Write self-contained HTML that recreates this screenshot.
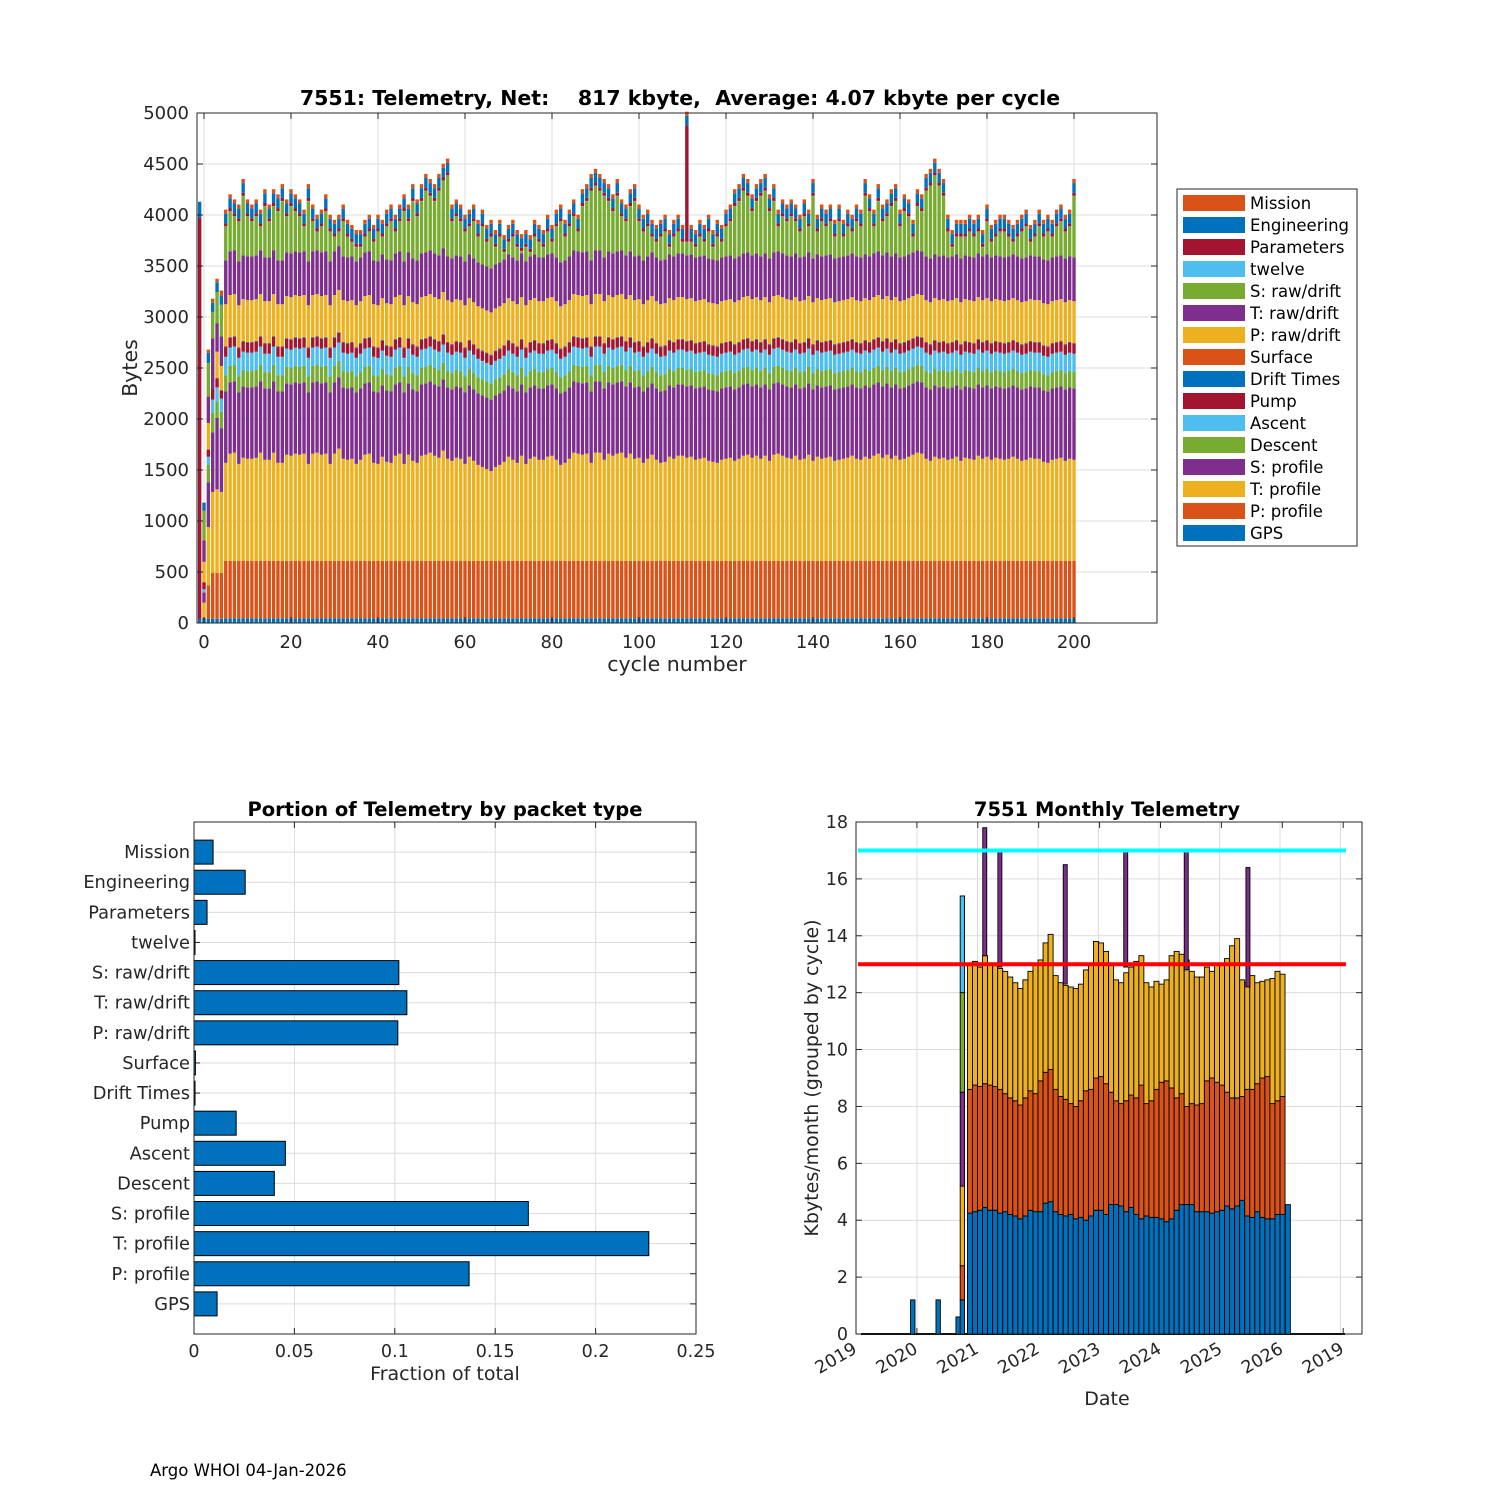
<!DOCTYPE html>
<html><head><meta charset="utf-8"><style>
html,body{margin:0;padding:0;background:#fff;}
svg{display:block;font-family:"DejaVu Sans","Liberation Sans",sans-serif;}
</style></head><body>
<svg id="root" xmlns="http://www.w3.org/2000/svg" width="1500" height="1500" viewBox="0 0 1500 1500">
<rect width="1500" height="1500" fill="#fff"/>
<text x="680" y="105" text-anchor="middle" font-size="20.5" font-weight="bold" fill="#000" style="white-space:pre">7551: Telemetry, Net:    817 kbyte,  Average: 4.07 kbyte per cycle</text>
<text x="677" y="671" text-anchor="middle" font-size="20.5" fill="#262626">cycle number</text>
<text transform="translate(137,368) rotate(-90)" text-anchor="middle" font-size="20.5" fill="#262626">Bytes</text>
<text x="445" y="816" text-anchor="middle" font-size="19.5" font-weight="bold" fill="#000">Portion of Telemetry by packet type</text>
<text x="445" y="1380" text-anchor="middle" font-size="19" fill="#262626">Fraction of total</text>
<text x="1107" y="816" text-anchor="middle" font-size="19.5" font-weight="bold" fill="#000">7551 Monthly Telemetry</text>
<text x="1107" y="1405" text-anchor="middle" font-size="19" fill="#262626">Date</text>
<text transform="translate(818,1078) rotate(-90)" text-anchor="middle" font-size="19" fill="#262626">Kbytes/month (grouped by cycle)</text>
<text x="150" y="1476" font-size="16.5" fill="#000">Argo WHOI 04-Jan-2026</text>
<g id="g1"></g><g id="g2"></g><g id="g3"></g>
</svg>
<script>
// ---------- TOP CHART DATA ----------
const seriesNames = ["GPS","P: profile","T: profile","S: profile","Descent","Ascent","Pump","Drift Times","Surface","P: raw/drift","T: raw/drift","S: raw/drift","twelve","Parameters","Engineering","Mission"];
const seriesColors = ["#0072BD","#D95319","#EDB120","#7E2F8E","#77AC30","#4DBEEE","#A2142F","#0072BD","#D95319","#EDB120","#7E2F8E","#77AC30","#4DBEEE","#A2142F","#0072BD","#D95319"];
const earlyCycles = [-1,0,1,2,3,4];
const earlyM1 = [40,0,0,0,0,0,0,0,0,0,0,0,0,3930,160,0];
const early0 = [50,0,150,100,0,30,70,0,0,200,210,290,0,0,80,0];
const early1 = [40,330,570,440,170,80,70,0,0,260,260,330,0,0,100,30];
const early2 = [40,450,795,585,190,130,110,0,0,0,490,260,0,0,90,40];
const early3 = [40,450,820,700,160,140,90,0,0,260,280,305,0,0,95,35];
const early4 = [40,450,795,625,160,130,80,0,0,240,290,310,0,0,90,50];
const regularBase = [45,565,0,700,160,180,95,5,5,410,430,0,3,30,95,40];
const tProfRegular = [960,1050,1060,950,1010,1000,1000,1010,1060,990,990,1060,960,960,1040,1030,1050,1040,1050,950,1050,1060,1040,1050,950,1050,1100,1000,990,1000,950,990,1040,1050,960,950,1020,970,960,1030,1050,950,1040,980,960,1030,1040,1060,1030,1010,1080,1000,980,1010,1000,950,1020,980,940,920,900,880,920,940,970,1020,990,960,1030,950,1000,1020,990,990,1020,1030,990,940,960,1000,1060,1050,1040,1050,960,1060,1060,990,1050,1030,1050,1060,1010,1050,1000,1010,960,1000,1040,990,960,970,1020,1000,1030,1030,1010,1020,990,1000,1010,980,970,960,990,1000,1010,980,1000,1030,1040,1010,1030,1000,1030,980,1040,1050,1030,1010,1000,1030,990,1000,1040,980,1020,1000,1010,1020,980,990,1000,1010,1030,1000,990,1020,1000,1030,1050,1010,1040,1000,1030,990,1000,1020,1040,1060,1050,1000,980,1020,1000,1010,990,1000,1020,980,1010,1000,990,1030,1000,1020,990,1010,1000,990,1000,1020,1000,980,990,1010,1000,1000,970,960,990,1000,1010,980,1000,990,1010,1000];
const sRawRegular = [290,440,390,340,590,390,340,390,290,490,340,490,440,540,390,490,440,390,290,540,340,240,290,440,240,190,240,340,190,140,90,90,190,240,140,240,190,290,340,240,340,440,340,540,390,540,640,590,540,640,740,790,340,390,340,240,290,340,190,290,140,190,90,190,40,140,190,90,40,90,40,190,140,90,240,140,290,340,190,290,390,240,490,540,640,690,640,590,540,440,590,390,340,490,540,340,240,290,190,140,190,240,90,190,240,140,140,140,90,190,140,240,90,190,140,290,340,490,540,640,590,440,540,590,640,440,540,290,390,340,390,340,240,390,290,590,240,340,290,340,190,340,190,290,240,340,290,590,440,290,540,340,390,490,540,290,440,390,190,490,440,640,690,790,690,590,240,90,190,190,190,240,190,240,90,340,140,190,240,240,190,140,190,240,290,140,190,290,190,240,190,290,340,240,290,590];
const paramSpikeCycle = [111];
const paramSpikeValue = [1110];
const topXTicks = [0,20,40,60,80,100,120,140,160,180,200];
const topYTicks = [0,500,1000,1500,2000,2500,3000,3500,4000,4500,5000];

// ---------- PORTION CHART DATA ----------
const portionCats = ["GPS","P: profile","T: profile","S: profile","Descent","Ascent","Pump","Drift Times","Surface","P: raw/drift","T: raw/drift","S: raw/drift","twelve","Parameters","Engineering","Mission"];
const portionVals = [0.0115,0.137,0.2265,0.1665,0.040,0.0455,0.021,0.0005,0.0007,0.1015,0.106,0.102,0.0005,0.0065,0.0255,0.0095];
const portionXTicks = [0,0.05,0.1,0.15,0.2,0.25];
const portionXLabels = ["0","0.05","0.1","0.15","0.2","0.25"];

// ---------- MONTHLY CHART DATA ----------
const monthStartYear = 2020, monthStartMonth = 11;
const mBlue = [4.25,4.3,4.35,4.45,4.35,4.35,4.25,4.3,4.2,4.15,4.05,4.15,4.35,4.3,4.3,4.6,4.65,4.3,4.2,4.15,4.2,4.05,4.1,4.0,4.15,4.35,4.35,4.2,4.55,4.55,4.5,4.3,4.45,4.2,4.05,4.15,4.1,4.1,4.05,3.95,4.05,4.35,4.55,4.55,4.55,4.3,4.3,4.3,4.25,4.3,4.35,4.5,4.4,4.5,4.7,4.15,4.1,4.3,4.1,4.05,4.05,4.2,4.2];
const mOrangeTop = [8.6,8.75,8.7,8.8,8.75,8.7,8.6,8.45,8.3,8.2,8.05,8.3,8.55,8.45,8.9,9.2,9.3,8.6,8.35,8.25,8.1,8.0,8.2,8.55,8.6,9.0,9.05,8.8,8.5,8.2,8.1,8.2,8.4,8.3,8.75,8.1,8.2,8.6,8.85,8.9,8.65,8.3,8.45,8.0,8.1,8.05,8.1,8.9,9.0,8.85,8.75,8.5,8.3,8.3,8.35,8.6,8.6,8.8,9.0,9.05,8.1,8.2,8.35];
const mTotal = [12.95,13.1,12.9,13.3,13.0,12.95,12.85,12.75,12.55,12.35,12.15,12.45,12.75,13.0,13.15,13.75,14.05,12.6,12.35,12.25,12.2,12.15,12.3,12.8,12.95,13.8,13.75,13.45,12.95,12.45,12.35,12.7,12.9,13.1,13.3,12.35,12.2,12.4,12.3,12.45,13.3,13.45,13.35,13.15,12.75,12.55,12.55,12.9,12.75,12.95,12.95,13.2,13.65,13.9,12.45,12.35,12.6,12.35,12.4,12.45,12.5,12.75,12.65];
const mFinalDate = [2026.13], mFinalBlue = [4.55];
const earlyDates = [2019.93,2020.35,2020.68], earlyBlue = [1.2,1.2,0.6];
const firstStackDate = [2020.75];
const firstStackVals = [1.2,1.2,2.8,3.3,3.5,3.4];
const firstStackColors = ["#0072BD","#D95319","#EDB120","#7E2F8E","#77AC30","#4DBEEE"];
const spikeDates = [2021.12,2021.37,2022.45,2023.45,2024.45,2025.47];
const spikeBase = [13.3,12.9,12.3,12.9,12.8,12.2];
const spikeTop = [17.8,17.05,16.5,16.95,17.05,16.4];
const refLineCyan = [17], refLineRed = [13];
const monthYTicks = [0,2,4,6,8,10,12,14,16,18];
const monthXTickLabels = ["2019","2020","2021","2022","2023","2024","2025","2026","2019"];

const NS="http://www.w3.org/2000/svg";
function mk(parent,tag,attrs,txt){const e=document.createElementNS(NS,tag);for(const k in attrs)e.setAttribute(k,attrs[k]);if(txt!==undefined)e.textContent=txt;parent.appendChild(e);return e;}

// ================= TOP CHART =================
(function(){
const g=document.getElementById('g1');
const L=197,R=1157,T=113,B=623;
const xs=c=>204+c*4.35, ys=v=>623-v*0.102;
mk(g,'rect',{x:L,y:T,width:R-L,height:B-T,fill:'#fff'});
topXTicks.forEach(t=>{const x=xs(t);
 let l=mk(g,'line',{x1:x,y1:T,x2:x,y2:B,stroke:'#dcdcdc','stroke-width':1});
 
 
 let tl=mk(g,'text',{x:x,y:B+25,'text-anchor':'middle','font-size':18,fill:'#262626'},String(t));
 
 
});
topYTicks.forEach(t=>{const y=ys(t);
 let l=mk(g,'line',{x1:L,y1:y,x2:R,y2:y,stroke:'#dcdcdc','stroke-width':1});
 
 
 let tl=mk(g,'text',{x:L-8,y:y+6,'text-anchor':'end','font-size':18,fill:'#262626'},String(t));
 
 
});
const early={'-1':earlyM1,'0':early0,'1':early1,'2':early2,'3':early3,'4':early4};
const bw=3.4;
const bars=mk(g,'g',{});


for(let c=-1;c<=200;c++){
 let vals;
 if(c<5) vals=early[String(c)];
 else {vals=regularBase.slice(); const tp=(tProfRegular[c-5]!==undefined)?tProfRegular[c-5]:1000; vals[2]=tp; vals[11]=Math.max(20,sRawRegular[c-5]-(tp-1000)); const si=paramSpikeCycle.indexOf(c); if(si>=0) vals[13]+=paramSpikeValue[si];}
 let acc=0;
 vals.forEach((v,k)=>{ if(v<=0) return; const y0=ys(acc), y1=ys(acc+v); acc+=v;
  const r=mk(bars,'rect',{x:xs(c)-bw/2,y:y1,width:bw,height:y0-y1,fill:seriesColors[k]});
  
  
 });
}
mk(g,'rect',{x:L,y:T,width:R-L,height:B-T,fill:'none',stroke:'#262626','stroke-width':1});
topXTicks.forEach(t=>{const x=xs(t);mk(g,'line',{x1:x,y1:B,x2:x,y2:B-6,stroke:'#262626'});mk(g,'line',{x1:x,y1:T,x2:x,y2:T+6,stroke:'#262626'});});
topYTicks.forEach(t=>{const y=ys(t);mk(g,'line',{x1:L,y1:y,x2:L+6,y2:y,stroke:'#262626'});mk(g,'line',{x1:R,y1:y,x2:R-6,y2:y,stroke:'#262626'});});
const lg=mk(g,'g',{});


mk(lg,'rect',{x:1177,y:189,width:180,height:357,fill:'#fff',stroke:'#262626','stroke-width':1});
for(let i=0;i<16;i++){
 const k=15-i, y=203+i*22;
 const e=mk(lg,'g',{});
 
 
 mk(e,'rect',{x:1183,y:y-8,width:62,height:16,fill:seriesColors[k]});
 mk(e,'text',{x:1250,y:y+6,'font-size':16.5,fill:'#000'},seriesNames[k]);
}
})();

// ================= PORTION CHART =================
(function(){
const g=document.getElementById('g2');
const L=194,R=696,T=822,B=1334;
const xs=v=>L+v/0.25*(R-L), ys=i=>B-(i+1)*((B-T)/17);
portionXTicks.forEach((t,i)=>{const x=xs(t);
 let l=mk(g,'line',{x1:x,y1:T,x2:x,y2:B,stroke:'#dcdcdc'});
 
 
 let tl=mk(g,'text',{x:x,y:B+23,'text-anchor':'middle','font-size':17.5,fill:'#262626'},portionXLabels[i]);
 
 
 mk(g,'line',{x1:x,y1:B,x2:x,y2:B-6,stroke:'#262626'});mk(g,'line',{x1:x,y1:T,x2:x,y2:T+6,stroke:'#262626'});
});
portionCats.forEach((c,i)=>{const y=ys(i);
 let l=mk(g,'line',{x1:L,y1:y,x2:R,y2:y,stroke:'#dcdcdc'});
 
 
 let tl=mk(g,'text',{x:L-4,y:y+6,'text-anchor':'end','font-size':17.8,fill:'#262626'},c);
 
 
 mk(g,'line',{x1:L,y1:y,x2:L+6,y2:y,stroke:'#262626'});mk(g,'line',{x1:R,y1:y,x2:R-6,y2:y,stroke:'#262626'});
});
portionVals.forEach((v,i)=>{const y=ys(i),h=24;
 const r=mk(g,'rect',{x:L,y:y-h/2,width:xs(v)-L,height:h,fill:'#0072BD',stroke:'#000','stroke-width':1});
 
 
});
mk(g,'rect',{x:L,y:T,width:R-L,height:B-T,fill:'none',stroke:'#262626'});
})();

// ================= MONTHLY CHART =================
(function(){
const g=document.getElementById('g3');
const L=856,R=1362,T=822,B=1334;
const xs=d=>917+(d-2020)*60.5, ys=v=>B-v*(B-T)/18;
for(let k=0;k<8;k++){const x=917+k*60.5;
 let l=mk(g,'line',{x1:x,y1:T,x2:x,y2:B,stroke:'#dcdcdc'});
 
 
}
monthXTickLabels.forEach((s,k)=>{const x=856+k*60.9;
 mk(g,'line',{x1:x,y1:B,x2:x,y2:B-6,stroke:'#262626'});mk(g,'line',{x1:x,y1:T,x2:x,y2:T+6,stroke:'#262626'});
 const t=mk(g,'text',{transform:`translate(${x+2},${B+18}) rotate(-30)`,'text-anchor':'end','font-size':17.5,fill:'#262626'},s);
 
 
});
monthYTicks.forEach(t=>{const y=ys(t);
 let l=mk(g,'line',{x1:L,y1:y,x2:R,y2:y,stroke:'#dcdcdc'});
 
 
 let tl=mk(g,'text',{x:L-8,y:y+6,'text-anchor':'end','font-size':17.5,fill:'#262626'},String(t));
 
 
 mk(g,'line',{x1:L,y1:y,x2:L+6,y2:y,stroke:'#262626'});mk(g,'line',{x1:R,y1:y,x2:R-6,y2:y,stroke:'#262626'});
});
const bw=4.4;
function bar(d,v0,v1,col,name,w){const x=xs(d),ww=w||bw;
 const r=mk(g,'rect',{x:x-ww/2,y:ys(v1),width:ww,height:ys(v0)-ys(v1),fill:col,stroke:'#000','stroke-width':0.9});
 
 
}
mk(g,'line',{x1:861,y1:B,x2:1345,y2:B,stroke:'#000','stroke-width':2});
earlyDates.forEach((d,i)=>bar(d,0,earlyBlue[i],'#0072BD','early-month-bar'));
let acc=0;firstStackVals.forEach((v,i)=>{bar(firstStackDate[0],acc,acc+v,firstStackColors[i],'first-month-segment');acc+=v;});
mTotal.forEach((tot,i)=>{
 const mi=monthStartMonth-1+i, d=monthStartYear+Math.floor(mi/12)+((mi%12)+0.5)/12;
 bar(d,0,mBlue[i],'#0072BD','month-bar-blue',5);
 bar(d,mBlue[i],mOrangeTop[i],'#D95319','month-bar-orange',5);
 bar(d,mOrangeTop[i],tot,'#EDB120','month-bar-yellow',5);
});
mFinalDate.forEach((d,i)=>bar(d,0,mFinalBlue[i],'#0072BD','final-month-bar',5));
spikeDates.forEach((d,i)=>bar(d,spikeBase[i],spikeTop[i],'#7E2F8E','spike-bar',4));
let c=mk(g,'line',{x1:858,y1:ys(refLineCyan[0]),x2:1346,y2:ys(refLineCyan[0]),stroke:'#00FFFF','stroke-width':4});


let r=mk(g,'line',{x1:858,y1:ys(refLineRed[0]),x2:1346,y2:ys(refLineRed[0]),stroke:'#FF0000','stroke-width':4});


mk(g,'rect',{x:L,y:T,width:R-L,height:B-T,fill:'none',stroke:'#262626'});
})();
</script>
</body></html>
